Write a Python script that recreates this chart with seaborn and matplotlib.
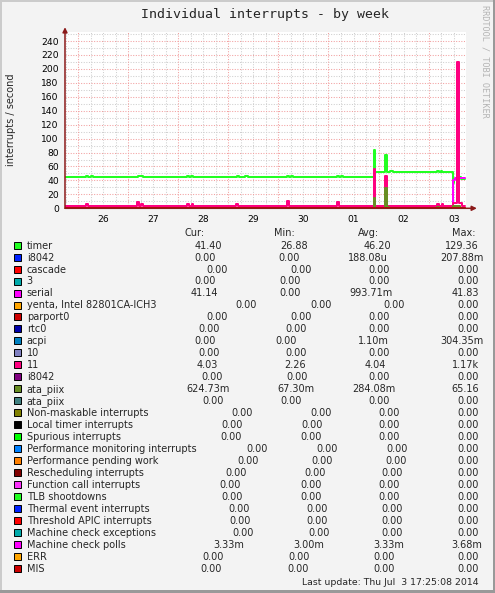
import numpy as np
import matplotlib
matplotlib.use("Agg")
import matplotlib.pyplot as plt
import seaborn as sns
from matplotlib.patches import Rectangle

# munin "irqstats" week graph - day numbers: Jun 26 00:00 = 26.0, Jul 1 = 31.0 ...
x_start, x_end = 25.74, 33.745

# series breakpoints (step values)
t_timer = [25.74, 26.16, 26.20, 26.26, 26.30, 27.20, 27.30, 28.18, 28.22, 28.26, 28.30,
           29.17, 29.22, 29.33, 29.39, 30.17, 30.21, 30.25, 30.29, 31.17, 31.21, 31.25, 31.29,
           31.90, 31.925, 32.135, 32.17, 32.23, 32.29, 33.17, 33.21, 33.24, 33.27,
           33.49, 33.51, 33.61, 33.64, 33.73]
v_timer = [45.5, 47, 45.5, 47, 45.5, 47, 45.5, 47, 45.5, 47, 45.5,
           47, 45.5, 47, 45.5, 47, 45.5, 47, 45.5, 47, 45.5, 47, 45.5,
           83, 52, 76, 52, 53.5, 52, 53.5, 52, 53.5, 52,
           36, 41.4, 45, 41.4, 41.4]

t_serial = [25.74, 33.485, 33.52, 33.73]
v_serial = [0, 40, 43, 43]

t_irq11 = [25.74, 26.15, 26.19, 27.18, 27.22, 27.26, 27.30, 28.17, 28.21, 28.27, 28.30,
           29.15, 29.20, 30.17, 30.21, 31.17, 31.21, 31.90, 31.925, 32.135, 32.17,
           33.17, 33.20, 33.26, 33.29, 33.49, 33.57, 33.60, 33.66, 33.73]
v_irq11 = [3.7, 5.7, 3.7, 8.6, 3.7, 5.5, 3.7, 5.5, 3.7, 5.5, 3.7,
           5.5, 3.7, 10, 3.7, 9, 3.7, 57, 3.7, 46, 3.7,
           5.7, 3.7, 5.7, 3.7, 8, 210, 8, 4.0, 4.0]

t_ata = [25.74, 31.90, 31.925, 32.135, 32.17, 32.20, 33.17, 33.20, 33.49, 33.62, 33.73]
v_ata = [0.4, 15, 0.4, 29, 1.5, 0.4, 2, 0.4, 3, 0.4, 0.4]

names = ["timer", "i8042", "cascade", "3", "serial", "yenta, Intel 82801CA-ICH3", "parport0",
         "rtc0", "acpi", "10", "11", "i8042", "ata_piix", "ata_piix",
         "Non-maskable interrupts", "Local timer interrupts", "Spurious interrupts",
         "Performance monitoring interrupts", "Performance pending work",
         "Rescheduling interrupts", "Function call interrupts", "TLB shootdowns",
         "Thermal event interrupts", "Threshold APIC interrupts", "Machine check exceptions",
         "Machine check polls", "ERR", "MIS"]
colors = ["#22ff22", "#0022ff", "#ff0000", "#00aaaa", "#ff00ff", "#ffa500", "#cc0000",
          "#0000aa", "#0080c0", "#8080c0", "#ff0080", "#800080", "#688e23", "#408080",
          "#808000", "#000000", "#00ff00", "#0080ff", "#ff8000", "#800000", "#fb31fb",
          "#22ff22", "#0022ff", "#ff0000", "#00aaaa", "#ff00ff", "#ffa500", "#cc0000"]

cur = ["41.40", "0.00", "0.00", "0.00", "41.14", "0.00", "0.00", "0.00", "0.00", "0.00",
       "4.03", "0.00", "624.73m", "0.00", "0.00", "0.00", "0.00", "0.00", "0.00", "0.00",
       "0.00", "0.00", "0.00", "0.00", "0.00", "3.33m", "0.00", "0.00"]
mn = ["26.88", "0.00", "0.00", "0.00", "0.00", "0.00", "0.00", "0.00", "0.00", "0.00",
      "2.26", "0.00", "67.30m", "0.00", "0.00", "0.00", "0.00", "0.00", "0.00", "0.00",
      "0.00", "0.00", "0.00", "0.00", "0.00", "3.00m", "0.00", "0.00"]
avg = ["46.20", "188.08u", "0.00", "0.00", "993.71m", "0.00", "0.00", "0.00", "1.10m", "0.00",
       "4.04", "0.00", "284.08m", "0.00", "0.00", "0.00", "0.00", "0.00", "0.00", "0.00",
       "0.00", "0.00", "0.00", "0.00", "0.00", "3.33m", "0.00", "0.00"]
mx = ["129.36", "207.88m", "0.00", "0.00", "41.83", "0.00", "0.00", "0.00", "304.35m", "0.00",
      "1.17k", "0.00", "65.16", "0.00", "0.00", "0.00", "0.00", "0.00", "0.00", "0.00",
      "0.00", "0.00", "0.00", "0.00", "0.00", "3.68m", "0.00", "0.00"]

day_labels = ["26", "27", "28", "29", "30", "01", "02", "03"]
y_ticks = [0, 20, 40, 60, 80, 100, 120, 140, 160, 180, 200, 220, 240]

# where rrdtool's tab stops put the columns (pixels)
cur_x = [195, 194.3, 206.7, 194.3, 190.7, 235.7, 206.7, 198.7, 194, 198.7, 196.7, 201.3, 186.7, 202,
         231.7, 221.7, 220, 246, 237.3, 225.7, 219.7, 221, 228.7, 229.3, 232.3, 213.3, 202, 200.7]
min_x = [280, 278.3, 290.7, 279.3, 279.3, 310, 290.7, 285.7, 275, 285.7, 284, 286.7, 277.7, 280.7,
         310, 301, 300, 316.7, 311, 304.3, 300, 300, 306, 306, 308.3, 293.3, 288.3, 287.3]
avg_x = [364, 348.3, 368.3, 368.3, 349.3, 383.3, 368.3, 368.3, 358.3, 368.3, 365, 368.3, 352.3, 368.3,
         378.3, 378.3, 378.3, 386.7, 385, 381.7, 378.3, 378.3, 381.7, 381.7, 381.7, 373.3, 373.3, 373.3]
max_x = [445, 440.7, 457.7, 457.7, 451.7, 457.7, 457.7, 457.7, 440, 457.7, 451.7, 457.7, 451.7, 457.7,
         457.7, 457.7, 457.7, 457.7, 457.7, 457.7, 457.7, 457.7, 457.7, 457.7, 457.7, 451.7, 457.7, 457.7]

sns.set_theme(style="white")
plt.rcParams['font.family'] = ['DejaVu Sans']

fig = plt.figure(figsize=(4.95, 5.93), dpi=100, facecolor='#f3f3f3')

# pixel overlay for frame / legend
bg = fig.add_axes([0, 0, 1, 1])
bg.set_xlim(0, 495)
bg.set_ylim(593, 0)
bg.axis('off')
bg.add_patch(Rectangle((0, 0), 495, 2, color='#cbcbcb', lw=0))
bg.add_patch(Rectangle((0, 0), 2, 593, color='#cbcbcb', lw=0))
bg.add_patch(Rectangle((0, 590), 495, 3, color='#999999', lw=0))
bg.add_patch(Rectangle((493, 0), 2, 593, color='#999999', lw=0))

ax = fig.add_axes([65 / 495, 1 - 208.3 / 593, (466 - 65) / 495, (208.3 - 32) / 593])
ax.set_facecolor('white')
ax.set_xlim(x_start, x_end)
ax.set_ylim(0, 253)

# grid: grey every 6h / 10 units, red every day / 20 units
for d in np.arange(25.75, x_end, 0.25):
    if abs(d - round(d)) > 0.01:
        ax.axvline(d, color='#cfcfcf', lw=0.75, ls=(0, (1, 1.5)), zorder=0)
for d in range(26, 34):
    ax.axvline(d, color='#f2a0a0', lw=0.75, ls=(0, (1, 1.5)), zorder=0.5)
for yv in range(10, 260, 20):
    ax.axhline(yv, color='#cfcfcf', lw=0.75, ls=(0, (1, 1.5)), zorder=0)
for yv in y_ticks[1:]:
    ax.axhline(yv, color='#f2a0a0', lw=0.75, ls=(0, (1, 1.5)), zorder=0.5)

series = {0: (t_timer, v_timer), 4: (t_serial, v_serial), 10: (t_irq11, v_irq11), 12: (t_ata, v_ata)}
for i, c in enumerate(colors):
    if i in series:
        tt, vv = series[i]
    else:
        tt, vv = [x_start, 33.73], [0, 0]
    sns.lineplot(x=tt, y=vv, color=c, drawstyle='steps-post', lw=1.44, ax=ax,
                 legend=False, estimator=None, errorbar=None, zorder=2 + i * 0.01)

for s in ax.spines.values():
    s.set_visible(False)
axis_col = '#8b1a1a'
ax.annotate('', xy=(1.027, 0), xytext=(0, 0), xycoords='axes fraction',
            arrowprops=dict(arrowstyle='-|>', color=axis_col, lw=1.1, mutation_scale=7,
                            shrinkA=0, shrinkB=0), zorder=5)
ax.annotate('', xy=(0, 1.027), xytext=(0, 0), xycoords='axes fraction',
            arrowprops=dict(arrowstyle='-|>', color=axis_col, lw=1.1, mutation_scale=7,
                            shrinkA=0, shrinkB=0), zorder=5)

ax.set_xticks(np.arange(26.5, 34, 1))
ax.set_xticklabels(day_labels)
ax.set_yticks(y_ticks)
ax.set_yticklabels([str(v) for v in y_ticks])
ax.tick_params(axis='x', length=0, pad=4.5, labelsize=6.6, labelcolor='black')
ax.tick_params(axis='y', length=2.5, width=0.7, color='#555555', pad=2, labelsize=6.6,
               labelcolor='black')
ax.set_xlabel('')
ax.set_ylabel('')

# texts
bg.text(264.7, 18.3, "Individual interrupts - by week", family='DejaVu Sans Mono',
        fontsize=9.5, ha='center', va='baseline')
bg.text(11, 120, "interrupts / second", rotation=90, fontsize=7, ha='center', va='center')
bg.text(485, 61, "RRDTOOL / TOBI OETIKER", rotation=270, family='DejaVu Sans Mono',
        fontsize=6.1, color='#b4b4b4', ha='center', va='center')

fs = 7.0
hy = 233 + 3.3
bg.text(184.3, hy, "Cur:", fontsize=fs, va='baseline')
bg.text(274.3, hy, "Min:", fontsize=fs, va='baseline')
bg.text(358.3, hy, "Avg:", fontsize=fs, va='baseline')
bg.text(452.3, hy, "Max:", fontsize=fs, va='baseline')
for i, name in enumerate(names):
    yc = 245.3 + 11.96 * i
    bg.add_patch(Rectangle((13.5, yc - 3.6), 7, 7, facecolor=colors[i], edgecolor='black', lw=0.7))
    bg.text(26.7, yc + 3.3, name, fontsize=fs, va='baseline')
    bg.text(cur_x[i], yc + 3.3, cur[i], fontsize=fs, va='baseline')
    bg.text(min_x[i], yc + 3.3, mn[i], fontsize=fs, va='baseline')
    bg.text(avg_x[i], yc + 3.3, avg[i], fontsize=fs, va='baseline')
    bg.text(max_x[i], yc + 3.3, mx[i], fontsize=fs, va='baseline')
bg.text(302.3, 585, "Last update: Thu Jul  3 17:25:08 2014", fontsize=6.75, va='baseline')

fig.savefig('out.png', dpi=100, facecolor=fig.get_facecolor())
